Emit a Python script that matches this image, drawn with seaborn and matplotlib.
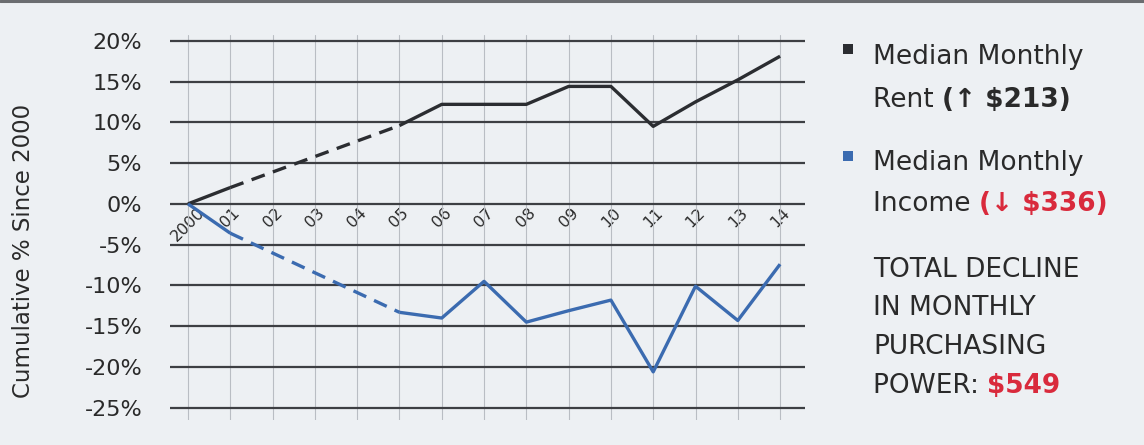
import numpy as np
import pandas as pd
import matplotlib
matplotlib.use("Agg")
import matplotlib.pyplot as plt
import matplotlib.patches as mpatches
import seaborn as sns

# Cumulative % change since 2000 (NaN = year without a survey value)
years = ["2000", "01", "02", "03", "04", "05", "06", "07",
         "08", "09", "10", "11", "12", "13", "14"]
rent = [0.0, 2.0, np.nan, np.nan, np.nan, 9.6, 12.2, 12.2,
        12.2, 14.4, 14.4, 9.5, 12.5, 15.2, 18.1]
income = [0.0, -3.6, np.nan, np.nan, np.nan, -13.3, -14.0, -9.5,
          -14.5, -13.1, -11.8, -20.6, -10.1, -14.3, -7.4]
y_ticks = [20, 15, 10, 5, 0, -5, -10, -15, -20, -25]

BG = "#edf0f3"
DARK = "#2b2d31"
BLUE = "#3b6bb0"
RED = "#d92a3c"
TXT = "#2a2a2a"

sns.set_theme(style="white")
plt.rcParams["font.family"] = ["DejaVu Sans"]

fig = plt.figure(figsize=(11.44, 4.45), dpi=100, facecolor=BG)
ax = fig.add_axes([0.1486, 0.0562, 0.7037 - 0.1486, 0.9213 - 0.0562])
ax.set_facecolor(BG)

x = np.arange(len(years))


def segments(vals):
    """Split a series into solid runs and dashed bridges across gaps."""
    v = np.asarray(vals, dtype=float)
    ok = np.where(~np.isnan(v))[0]
    solid, dashed = [], []
    run = [ok[0]]
    for a, b in zip(ok[:-1], ok[1:]):
        if b - a == 1:
            run.append(b)
        else:
            solid.append(run)
            dashed.append([a, b])
            run = [b]
    solid.append(run)
    return v, solid, dashed


for vals, color in [(rent, DARK), (income, BLUE)]:
    v, solid, dashed = segments(vals)
    for idx in solid:
        df = pd.DataFrame({"x": x[idx], "y": v[idx]})
        sns.lineplot(data=df, x="x", y="y", ax=ax, color=color, lw=2.4,
                     solid_capstyle="butt", zorder=4)
    for idx in dashed:
        df = pd.DataFrame({"x": x[idx], "y": v[idx]})
        sns.lineplot(data=df, x="x", y="y", ax=ax, color=color, lw=2.4,
                     linestyle=(0, (4.2, 2.6)), zorder=4)

# grid: dark horizontal rules, faint vertical year lines
for t in y_ticks:
    ax.axhline(t, color="#3d3f43", lw=1.6, zorder=2)
for xi in x:
    ax.axvline(xi, color="#b9bdc3", lw=0.8, zorder=1)

ax.set_xlim(-0.426, 14.59)
ax.set_ylim(-26.5, 20.7)
ax.set_yticks(y_ticks)
ax.set_yticklabels([f"{t}%" for t in y_ticks], fontsize=16, color=TXT)
ax.tick_params(axis="y", length=0, pad=20)

# year labels sit on the zero line
ax.spines["bottom"].set_position(("data", 0))
ax.set_xticks(x)
ax.set_xticklabels(years, rotation=45, fontsize=11.5, color=TXT,
                   ha="center", va="top")
ax.tick_params(axis="x", length=0, pad=1)
for s in ax.spines.values():
    s.set_visible(False)

ax.set_xlabel("")
ax.set_ylabel("Cumulative % Since 2000", fontsize=16.5, color=TXT)
ax.yaxis.set_label_coords(-0.2126, 0.44)

# thin rule along the top edge
fig.add_artist(plt.Line2D([0, 1], [0.997, 0.997], transform=fig.transFigure,
                          color="#6b6d70", lw=2.2))

# side legend and summary
W, H = 1144, 445
fs = 19


def fx(px):
    return px / W


def fy(py):
    return 1 - py / H


def line_pieces(x0, y0, pieces):
    """Write one line made of differently styled runs, left to right."""
    prev = None
    for txt, color, weight in pieces:
        if prev is None:
            prev = fig.text(fx(x0), fy(y0), txt, color=color, fontsize=fs,
                            fontweight=weight, va="center", ha="left")
        else:
            prev = ax.annotate(txt, xy=(1, 0), xycoords=prev, color=color,
                               fontsize=fs, fontweight=weight,
                               va="bottom", ha="left", annotation_clip=False)


for py, color in [(49, DARK), (156, BLUE)]:
    fig.add_artist(mpatches.Rectangle(
        (fx(843), fy(py + 5)), 10 / W, 10 / H, transform=fig.transFigure,
        facecolor=color, edgecolor="none"))

line_pieces(873, 57, [("Median Monthly", TXT, "normal")])
line_pieces(873, 100, [("Rent ", TXT, "normal"), ("(↑ $213)", TXT, "bold")])
line_pieces(873, 163, [("Median Monthly", TXT, "normal")])
line_pieces(873, 204, [("Income ", TXT, "normal"), ("(↓ $336)", RED, "bold")])
line_pieces(873, 270, [("TOTAL DECLINE", TXT, "normal")])
line_pieces(873, 308, [("IN MONTHLY", TXT, "normal")])
line_pieces(873, 347, [("PURCHASING", TXT, "normal")])
line_pieces(873, 386, [("POWER: ", TXT, "normal"), ("$549", RED, "bold")])

fig.savefig("out.png", dpi=100, facecolor=BG)
